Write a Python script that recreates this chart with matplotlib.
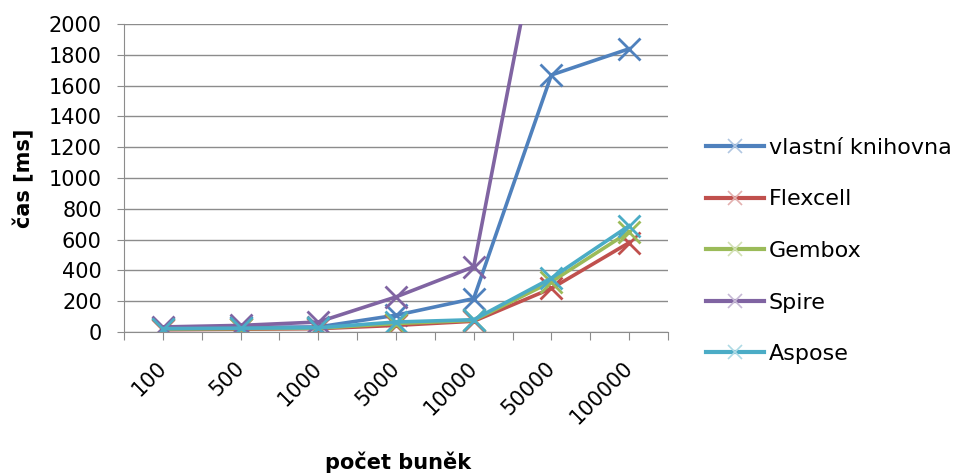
import matplotlib
matplotlib.use("Agg")
import matplotlib.pyplot as plt
import matplotlib.transforms as mtransforms
from matplotlib.lines import Line2D
import matplotlib.colors as mcolors
import numpy as np

plt.rcParams['font.family'] = ['DejaVu Sans']

categories = ["100", "500", "1000", "5000", "10000", "50000", "100000"]
vlastni = [25, 30, 33, 109, 217, 1669, 1839]
flexcell = [15, 18, 22, 43, 70, 283, 580]
gembox = [20, 22, 25, 55, 76, 326, 650]
spire = [33, 43, 65, 228, 424, 3030, 5500]
aspose = [22, 25, 28, 65, 80, 350, 690]

series = [
    ("vlastní knihovna", vlastni, "#4F81BD"),
    ("Flexcell", flexcell, "#C0504D"),
    ("Gembox", gembox, "#9BBB59"),
    ("Spire", spire, "#8064A2"),
    ("Aspose", aspose, "#4BACC6"),
]

fig = plt.figure(figsize=(9.56, 4.75), dpi=100)
ax = fig.add_axes([0.1297, 0.301, 0.569, 0.6485])
x = np.arange(len(categories))
handles = []
for name, vals, col in series:
    ax.plot(x, vals, color=col, lw=2.6, marker='x', markersize=16,
            markeredgewidth=2.0, clip_on=True)
    light = mcolors.to_rgba(col)
    light = tuple(0.45 * c + 0.55 for c in light[:3])
    handles.append(Line2D([], [], color=col, lw=3, marker='x', markersize=10,
                          markeredgewidth=1.2, markeredgecolor=light, label=name))

ax.set_ylim(0, 2000)
ax.set_xlim(-0.5, len(categories) - 0.5)
ax.set_yticks(np.arange(0, 2001, 200))
ax.yaxis.grid(True, color='#8c8c8c', lw=1)
ax.set_axisbelow(True)
ax.set_xticks(np.arange(-0.5, len(categories), 0.5))
ax.set_xticklabels([])
ax.tick_params(axis='x', length=6, color='#8c8c8c')
ax.tick_params(axis='y', length=5, color='#8c8c8c', labelsize=15, pad=11)
for s in ['top', 'right']:
    ax.spines[s].set_visible(False)
for s in ['left', 'bottom']:
    ax.spines[s].set_color('#8c8c8c')

# category labels, rotated, anchored at their right end just below the axis
trans = mtransforms.blended_transform_factory(ax.transData, ax.transAxes) + \
    mtransforms.ScaledTranslation(1 / 100, -33 / 100, fig.dpi_scale_trans)
for xi, lab in zip(x, categories):
    ax.text(xi, 0, lab, transform=trans, rotation=45, rotation_mode='anchor',
            ha='right', va='center', fontsize=15)

ax.set_ylabel("čas [ms]", fontsize=15, fontweight='bold', labelpad=10)
fig.text(0.416, 0.027, "počet buněk", fontsize=15, fontweight='bold',
         ha='center', va='center')

fig.legend(handles=handles, loc='center left', bbox_to_anchor=(0.739, 0.4716),
           frameon=False, fontsize=16, handlelength=2.6, labelspacing=1.42,
           handletextpad=0.2, borderpad=0, borderaxespad=0)

fig.savefig("out.png", dpi=100)
